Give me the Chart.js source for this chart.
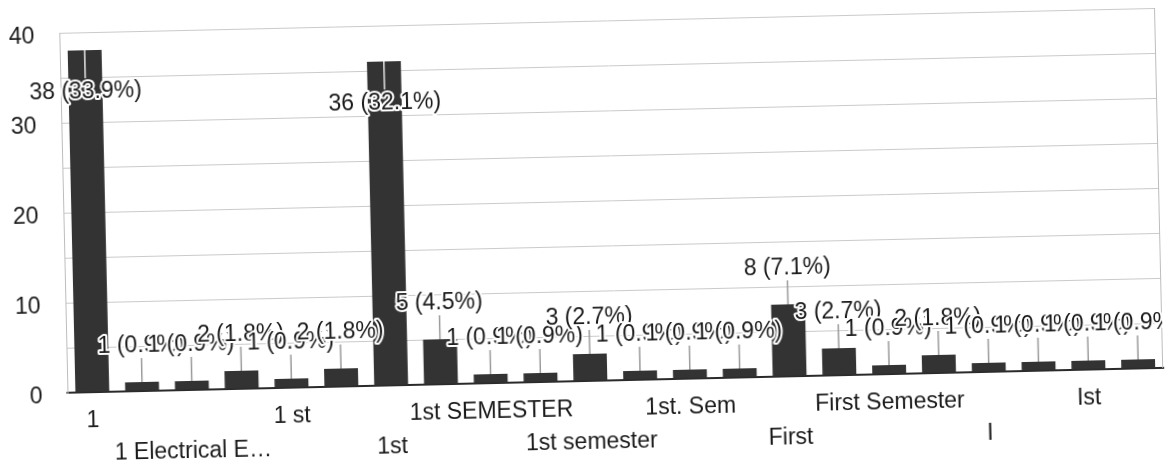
<!DOCTYPE html>
<html><head><meta charset="utf-8">
<script src="https://cdn.jsdelivr.net/npm/chart.js@4.4.1/dist/chart.umd.min.js"></script>
<style>
html,body{margin:0;padding:0;background:#fff;overflow:hidden;}
#wrap{width:1166px;height:468px;transform:rotate(-1.3deg);transform-origin:583px 234px;}
</style></head><body>
<div id="wrap"><canvas id="c" width="1166" height="468"></canvas></div>
<script>
// Categories (labels that are hidden in the picture by the axis are left empty)
const categories = ['1','','1 Electrical E…','','1 st','','1st','','1st SEMESTER','','1st semester','','1st. Sem','','First','','First Semester','','I','','Ist',''];
const counts = [38,1,1,2,1,2,36,5,1,1,3,1,1,1,8,3,1,2,1,1,1,1];
const yTickLabels = [0,10,20,30,40];

const FONT = '"Liberation Sans", Arial, sans-serif';
Chart.defaults.font.family = FONT;
const total = counts.reduce((a,b)=>a+b,0);

const frame = {
  id:'frame',
  beforeDatasetsDraw(chart){
    const {ctx, chartArea:a} = chart;
    ctx.save();
    ctx.strokeStyle='#bdbdbd'; ctx.lineWidth=1;
    ctx.beginPath(); ctx.moveTo(a.right-0.5,a.top); ctx.lineTo(a.right-0.5,a.bottom); ctx.stroke();
    ctx.restore();
  }
};

const barLabels = {
  id:'barLabels',
  afterDatasetsDraw(chart){
    const {ctx, chartArea:a} = chart;
    const meta = chart.getDatasetMeta(0);
    ctx.save();
    ctx.beginPath(); ctx.rect(0,0,a.right,chart.height); ctx.clip();
    ctx.font = '23px ' + FONT;
    ctx.textAlign='center'; ctx.textBaseline='middle';
    meta.data.forEach((bar,i)=>{
      const v = counts[i];
      const txt = v + ' (' + (v/total*100).toFixed(1) + '%)';
      const inside = (a.bottom - bar.y) > 120;
      let s1, ty, sc;
      if (inside){ s1 = bar.y + 28; ty = bar.y + 42; sc = '#e6e6e6'; }
      else { s1 = bar.y - 24; ty = bar.y - 36; sc = '#9a9a9a'; }
      ctx.strokeStyle = sc; ctx.lineWidth = 1.5;
      ctx.beginPath(); ctx.moveTo(bar.x, bar.y); ctx.lineTo(bar.x, s1); ctx.stroke();
      ctx.lineWidth = 4; ctx.strokeStyle = '#fff'; ctx.lineJoin = 'round';
      ctx.strokeText(txt, bar.x, ty);
      ctx.fillStyle = '#1a1a1a';
      ctx.fillText(txt, bar.x, ty);
    });
    ctx.restore();
  }
};

new Chart(document.getElementById('c'), {
  type:'bar',
  data:{labels:categories, datasets:[{data:counts, backgroundColor:'#333333', barPercentage:0.68, categoryPercentage:1}]},
  options:{
    responsive:false, animation:false, devicePixelRatio:1,
    layout:{padding:{top:21,right:6,left:0,bottom:0}},
    plugins:{legend:{display:false}, tooltip:{enabled:false}},
    scales:{
      x:{
        grid:{display:false, drawTicks:false},
        border:{display:true, color:'#2a2a2a', width:2},
        ticks:{autoSkip:false, maxRotation:0, minRotation:0, padding:12, color:'#1a1a1a',
          font:{size:23, lineHeight:1.43},
          callback:function(v, i){ const t = categories[i]; if(!t) return ''; return (i/2)%2===0 ? t : ['', t]; }},
        afterFit:s=>{ s.height = 87; }
      },
      y:{
        min:0, max:40,
        grid:{color:'#cacaca', drawTicks:false},
        border:{display:true, color:'#bdbdbd'},
        ticks:{stepSize:5, padding:25, color:'#1a1a1a', font:{size:23, lineHeight:'8px'},
          callback:v=> yTickLabels.includes(v) ? ['', String(v)] : ''},
        afterFit:s=>{ s.width = 64; s.paddingTop = 0; s.paddingBottom = 0; }
      }
    }
  },
  plugins:[frame, barLabels]
});
</script>
</body></html>
